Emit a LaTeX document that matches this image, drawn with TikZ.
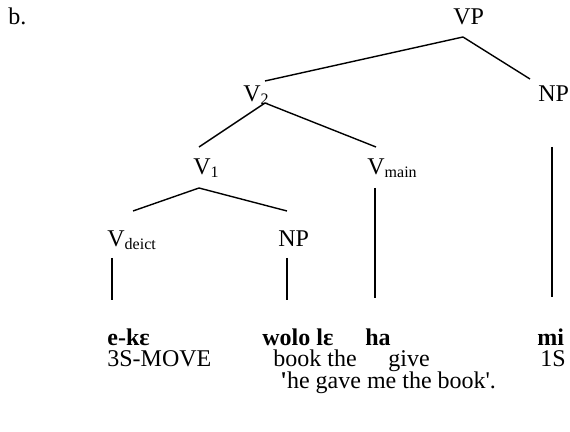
\documentclass[tikz,border=0pt]{standalone}
\usepackage{fontspec}
\setmainfont{Liberation Serif}
\usetikzlibrary{calc}

\newcommand\lsub[1]{\raisebox{-1.5pt}{\fontsize{8}{9}\selectfont #1}}

\tikzset{
  cat_lbl/.style={inner sep=0pt, anchor=base west, font=\fontsize{12}{14}\selectfont},
  word_lbl/.style={cat_lbl, font=\fontsize{12}{14}\selectfont\bfseries},
  gloss_lbl/.style={cat_lbl},
}

\begin{document}
\begin{tikzpicture}[
  x=0.5pt, y=-0.5pt,
  branch/.style={line width=.7pt},
  ]
  \useasboundingbox (0,0) rectangle (570,432);

  \node[cat_lbl] (ex) at (8,25) {b.};

  % tree labels
  \node[cat_lbl] (vp) at (453,25) {VP};
  \node[cat_lbl] (v2) at (243,102) {V\lsub{2}};
  \node[cat_lbl] (np_r) at (538,102) {NP};
  \node[cat_lbl] (v1) at (193,175) {V\lsub{1}};
  \node[cat_lbl] (vmain) at (367,175) {V\lsub{main}};
  \node[cat_lbl] (vdeict) at (107,247) {V\lsub{deict}};
  \node[cat_lbl] (np_m) at (278,247) {NP};

  % words
  \node[word_lbl] (eke) at (107,346) {e-kɛ};
  \node[word_lbl] (wolo) at (262,346) {wolo lɛ};
  \node[word_lbl] (ha) at (365,346) {ha};
  \node[word_lbl] (mi) at (537,346) {mi};

  \foreach \Pos/\Txt [count=\i] in {107/3S-MOVE, 273/book the, 388/give, 540/1S}{
    \node[gloss_lbl] (gl\i) at (\Pos,367) {\Txt};
  }
  \node[gloss_lbl] (transl) at (280,389)
       {{\bfseries\textquotesingle}he gave me the book\textquotesingle.};

  % branches
  \draw[branch] ($(vp.base west)+(10,12)$) -- ($(v2.base west)+(22,-21)$);
  \draw[branch] ($(vp.base west)+(10,12)$) -- ($(np_r.base west)+(-8,-23)$);
  \draw[branch] ($(v2.base west)+(22,1)$) -- ($(v1.base west)+(6,-28)$);
  \draw[branch] ($(v2.base west)+(22,1)$) -- ($(vmain.base west)+(9,-28)$);
  \draw[branch] ($(v1.base west)+(6,13)$) -- ($(vdeict.base west)+(26,-36)$);
  \draw[branch] ($(v1.base west)+(6,13)$) -- ($(np_m.base west)+(9,-36)$);

  \draw[branch] ($(vdeict.base west)+(5,11)$) -- ($(eke.base west)+(5,-46)$);
  \draw[branch] ($(np_m.base west)+(9,11)$) -- ($(wolo.base west)+(25,-46)$);
  \draw[branch] ($(vmain.base west)+(8,13)$) -- ($(ha.base west)+(10,-48)$);
  \draw[branch] ($(np_r.base west)+(14,45)$) -- ($(mi.base west)+(15,-49)$);

\end{tikzpicture}
\end{document}
